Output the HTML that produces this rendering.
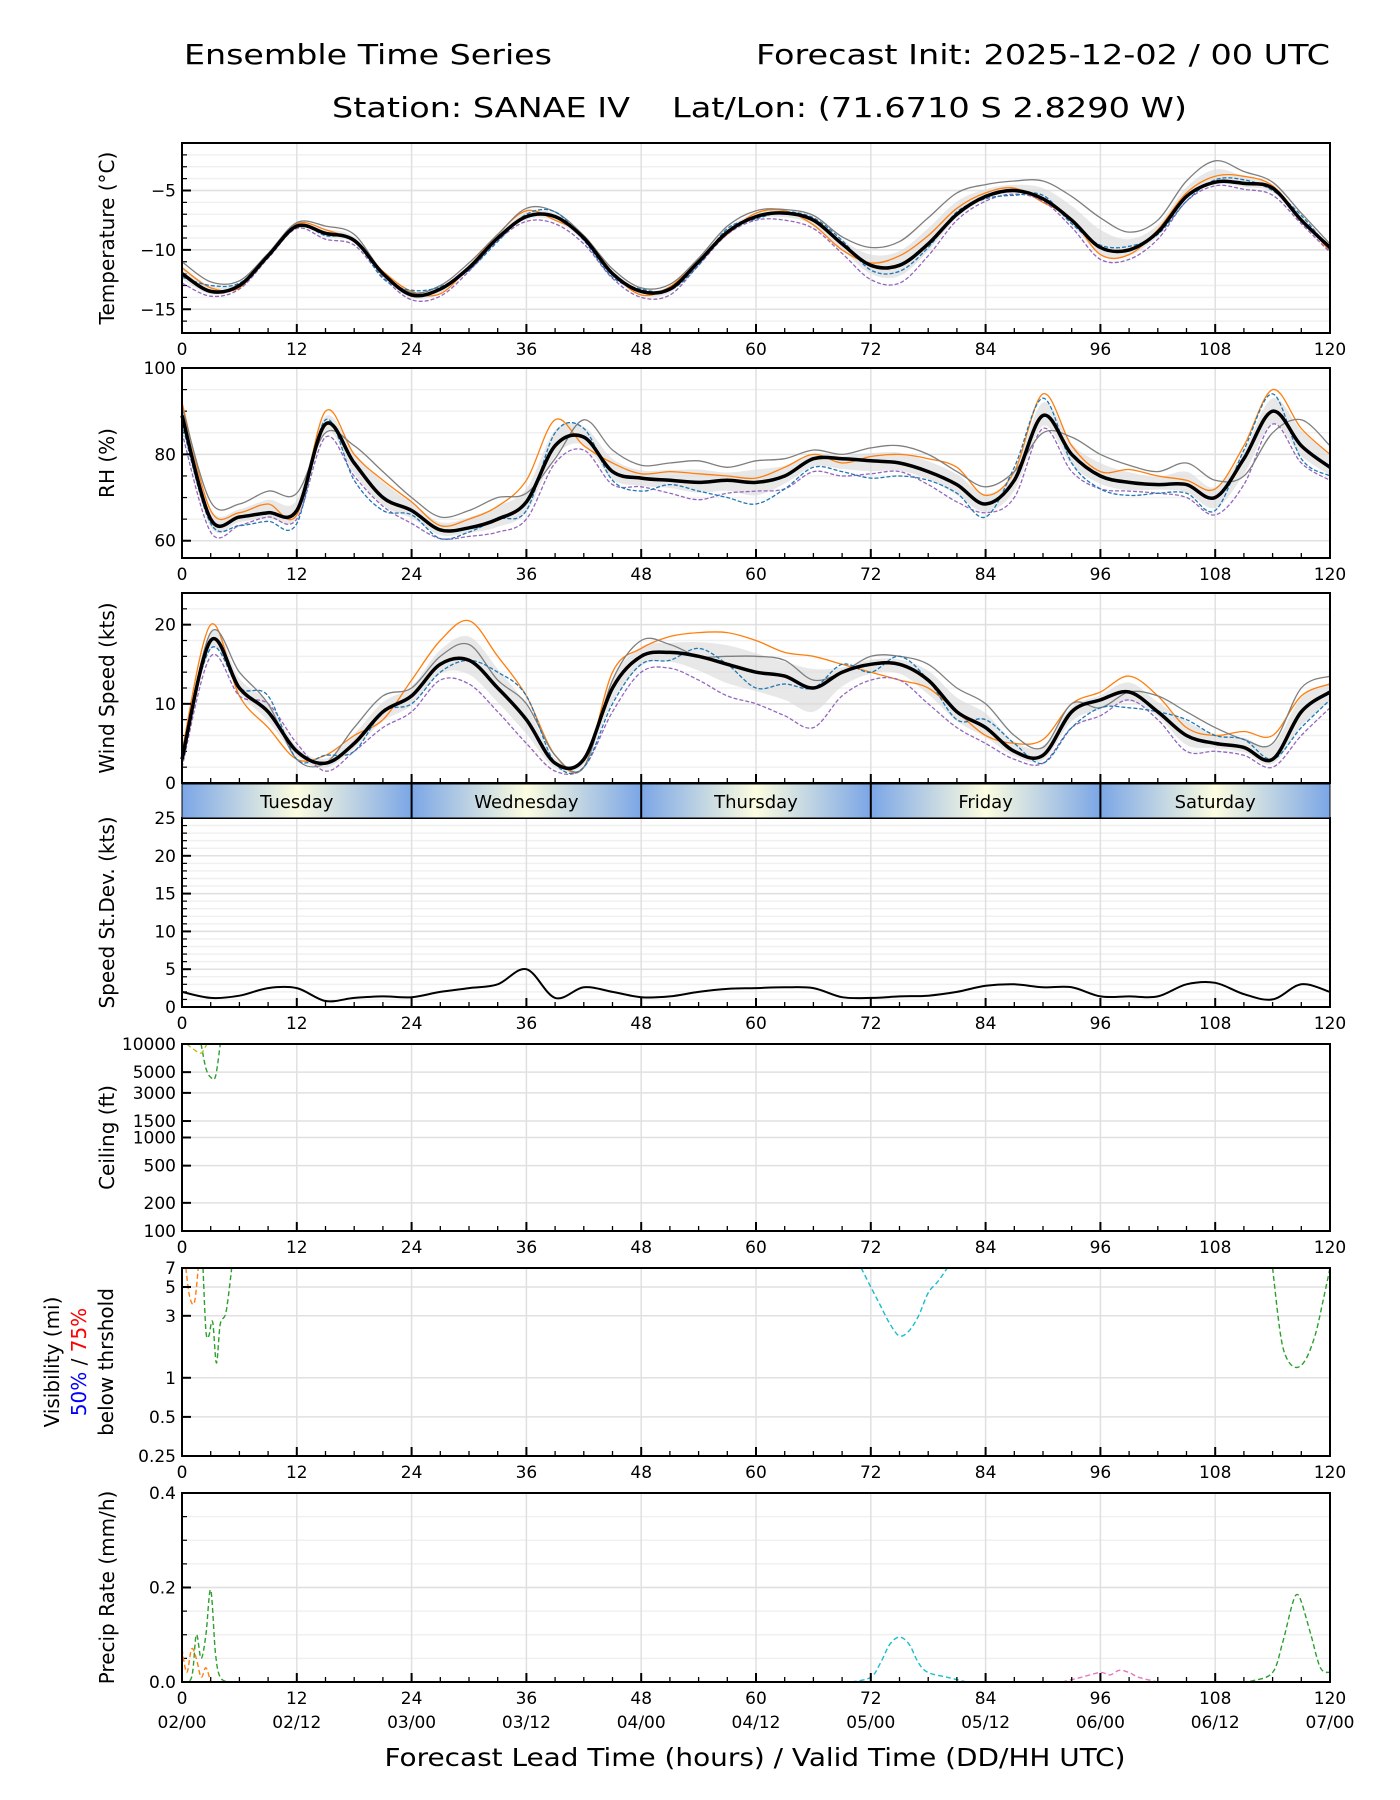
<!DOCTYPE html>
<html><head><meta charset="utf-8"><style>
html,body{margin:0;padding:0;background:#fff;}
svg{display:block;font-family:"DejaVu Sans","Liberation Sans",sans-serif;}
</style></head><body>
<svg id="chart" width="1400" height="1800" viewBox="0 0 1400 1800" xmlns="http://www.w3.org/2000/svg">
<defs>
<linearGradient id="dayg" x1="0" x2="1" y1="0" y2="0">
<stop offset="0" stop-color="#7ba6e6"/><stop offset="0.5" stop-color="#fdfde0"/><stop offset="1" stop-color="#7ba6e6"/>
</linearGradient>
</defs>
<text x="184" y="64" font-size="28" textLength="368" lengthAdjust="spacingAndGlyphs">Ensemble Time Series</text>
<text x="1330" y="64" font-size="28" text-anchor="end" textLength="574" lengthAdjust="spacingAndGlyphs">Forecast Init: 2025-12-02 / 00 UTC</text>
<text x="332" y="117" font-size="28" textLength="298" lengthAdjust="spacingAndGlyphs">Station: SANAE IV</text>
<text x="672" y="117" font-size="28" textLength="515" lengthAdjust="spacingAndGlyphs">Lat/Lon: (71.6710 S 2.8290 W)</text>
<text x="755" y="1766" font-size="25" text-anchor="middle" textLength="741" lengthAdjust="spacingAndGlyphs">Forecast Lead Time (hours) / Valid Time (DD/HH UTC)</text>
<g id="root"></g>
</svg>
<script>
const hours = [0,3,6,9,12,15,18,21,24,27,30,33,36,39,42,45,48,51,54,57,60,63,66,69,72,75,78,81,84,87,90,93,96,99,102,105,108,111,114,117,120];
const tempMean = [-12,-13.5,-13,-10.5,-8,-8.6,-9.2,-12,-13.8,-13.3,-11.5,-9,-7.2,-7.2,-9,-12,-13.5,-13.3,-11,-8.5,-7.2,-6.9,-7.5,-9.5,-11.3,-11.3,-9.5,-7,-5.5,-5,-5.7,-7.5,-9.8,-10,-8.5,-5.5,-4.3,-4.4,-4.8,-7.5,-9.8];
const rhMean = [89,65,65.5,66.5,67,87,78,70,67,62.5,63,65,69,82,84,76,74.5,74,73.5,74,73.5,75,79,79,78.5,78,76,73,68.5,74,89,80,75,73.5,73,73,70,79,90,82,77];
const windMean = [3,18,12,9,4,2.5,5,9,11,15,15.5,12,8,2.5,3,12,16,16.5,16,15,14,13.5,12,14,15,15,13,9,7,4,3.5,9,10.5,11.5,9,6,5,4.5,3,9,11.5];
const sdevMean = [2,1.2,1.5,2.5,2.5,0.8,1.2,1.4,1.3,2,2.5,3,5,1.2,2.6,2,1.3,1.4,2,2.4,2.5,2.6,2.5,1.3,1.2,1.4,1.5,2,2.8,3,2.6,2.6,1.4,1.4,1.4,3,3.2,1.7,1,3,2];
const tempOff1 = [0.5,0.3,-0.2,0.1,0.2,0.3,-0.1,0.2,0.3,-0.4,0.1,0.3,0.5,-0.3,0.2,0.1,-0.3,0.2,0.1,-0.2,0.3,0.2,-0.4,-0.5,0.2,0.8,0.7,0.5,0.3,0.2,-0.3,0.1,-0.6,-0.4,0.2,0.3,0.5,0.6,0.2,0.1,-0.3];
const tempOff2 = [-0.8,-0.4,-0.3,-0.2,-0.2,-0.5,-0.4,-0.3,-0.4,-0.6,-0.3,-0.2,-0.4,-0.6,-0.5,-0.4,-0.5,-0.5,-0.3,-0.2,-0.3,-0.6,-0.7,-0.8,-1.2,-1.5,-1.0,-0.5,-0.4,-0.3,-0.2,-0.6,-1.0,-0.8,-0.6,-0.4,-0.3,-0.5,-0.6,-0.3,-0.4];
const tempOff3 = [1.0,0.8,0.4,0.2,0.3,0.6,0.5,0.1,0.2,0.3,0.4,0.3,0.7,0.4,0.2,0.4,0.3,0.4,0.3,0.5,0.5,0.3,0.4,0.6,1.5,2.0,2.2,1.8,1.0,0.8,1.5,2.0,2.5,1.5,1.0,1.3,1.8,1.0,0.5,0.6,0.3];
const tempOff4 = [-0.3,0.5,0.2,-0.1,0.1,-0.2,0.1,-0.4,0.4,0.2,-0.2,-0.3,0.2,0.4,-0.2,-0.3,0.2,-0.1,-0.3,0.3,-0.2,0.1,0.2,0.3,-0.4,-0.5,-0.3,0.2,-0.2,-0.4,0.3,-0.3,0.2,0.3,-0.2,-0.4,0.2,0.3,-0.2,0.4,-0.2];
const rhOff1 = [3,2,1,2,-1,3,2,4,2,1,2,3,5,6,-2,2,1,2,2,1,1,2,1,-1,1,2,3,4,2,2,5,2,1,3,2,1,2,3,5,4,3];
const rhOff2 = [-4,-3,-2,-1,-2,-3,-3,-2,-3,-2,-2,-3,-4,-4,-3,-3,-2,-3,-4,-3,-2,-3,-3,-4,-3,-2,-3,-4,-2,-4,-3,-4,-3,-2,-2,-3,-4,-6,-3,-4,-3];
const rhOff3 = [2,4,3,5,4,-2,4,6,3,3,4,5,2,-3,4,5,3,4,5,3,5,4,2,1,3,4,4,3,4,2,-4,4,5,4,3,5,4,-4,-5,6,5];
const rhOff4 = [-2,-1,-2,-2,-3,1,-4,-3,-1,-2,-1,0,-2,3,2,-2,-3,-1,-2,-4,-5,-3,-2,-3,-4,-3,-2,-2,-3,3,4,-2,-3,-3,-2,-2,-3,2,4,-3,-2];
const windOff1 = [1,2,-1,-2,-1,1,1,-1,2,3,5,4,3,1,-1,2,1,2,3,4,4,3,4,1,-1,-2,-1,0,-1,1,2,1,1,2,2,1,1,2,3,2,1];
const windOff2 = [-1,-2,-1,1,1,-1,-1,-2,-2,-2,-3,-3,-3,-1,-1,-3,-2,-2,-3,-4,-4,-5,-5,-3,-2,-2,-3,-2,-2,-1,-1,-2,-2,-1,-1,-2,-1,-1,-1,-3,-2];
const windOff3 = [0,1,2,1,-1,0,2,2,1,1,2,1,2,1,-1,1,2,1,0,1,2,2,1,0,1,1,2,3,3,2,1,1,-1,0,2,3,2,1,2,3,2];
const windOff4 = [1,-1,0,2,-1,1,-1,0,-1,-1,0,2,3,0,-1,-2,-1,-1,1,0,-2,-1,0,1,-1,1,0,-1,1,1,-1,-2,-1,-2,0,2,1,1,0,-2,-1];
const ceilHoursA = [2,2.5,3,3.5,4];
const ceilValsA = [10000,5500,4400,4500,10000];
const ceilHoursB = [0.5,1.2,2,2.6];
const ceilValsB = [10000,8800,8000,10000];
const visHoursA = [2.2,2.5,2.8,3.2,3.6,4,4.6,5.2];
const visValsA = [7,2.3,2.1,2.7,1.3,2.6,3.2,7];
const visHoursB = [0.4,0.8,1.3,1.7];
const visValsB = [7,4.2,3.8,7];
const visHoursC = [71,72,73,74,75,76,77,78,79,80];
const visValsC = [7,5,3.6,2.6,2.1,2.3,3,4.5,5.5,7];
const visHoursD = [114,114.8,115.5,116.5,117.5,118.5,119.3,120];
const visValsD = [7,2.2,1.4,1.2,1.4,2.2,4,7];
const prHoursA = [0,1,1.5,2,2.5,3,3.5,4,5,6];
const prValsA = [0,0.01,0.1,0.05,0.1,0.195,0.06,0.01,0,0];
const prHoursB = [0,0.5,1,1.5,2,2.5,3];
const prValsB = [0.07,0.02,0.07,0.05,0.01,0.03,0];
const prHoursC = [70,72,73,74,75,76,77,78,80,82];
const prValsC = [0,0.01,0.04,0.08,0.095,0.08,0.04,0.02,0.01,0];
const prHoursD = [110,112,114,115,116,116.5,117,118,119,120];
const prValsD = [0,0.003,0.02,0.08,0.16,0.185,0.17,0.1,0.03,0.02];
const prHoursE = [92,94,96,97,98,99,100,102];
const prValsE = [0,0.01,0.02,0.015,0.025,0.02,0.01,0];
const dayNames = ["Tuesday","Wednesday","Thursday","Friday","Saturday"];
const xTicks = [0,12,24,36,48,60,72,84,96,108,120];
const dateLabels = ["02/00","02/12","03/00","03/12","04/00","04/12","05/00","05/12","06/00","06/12","07/00"];

const NS="http://www.w3.org/2000/svg";
const root=document.getElementById('root');
const X0=182,X1=1330;
function xs(h){return X0+h*(X1-X0)/120;}
function mk(tag,attrs,parent){const e=document.createElementNS(NS,tag);for(const k in attrs)e.setAttribute(k,attrs[k]);(parent||root).appendChild(e);return e;}
function scale(p){return v=>{ if(p.log){return p.bot-(Math.log10(v)-Math.log10(p.min))/(Math.log10(p.max)-Math.log10(p.min))*(p.bot-p.top);} return p.bot-(v-p.min)/(p.max-p.min)*(p.bot-p.top);};}
function smooth(pts){let d='M'+pts[0][0].toFixed(1)+','+pts[0][1].toFixed(1);for(let i=0;i<pts.length-1;i++){const p0=pts[i-1]||pts[i],p1=pts[i],p2=pts[i+1],p3=pts[i+2]||p2;const c1=[p1[0]+(p2[0]-p0[0])/6,p1[1]+(p2[1]-p0[1])/6],c2=[p2[0]-(p3[0]-p1[0])/6,p2[1]-(p3[1]-p1[1])/6];d+='C'+c1[0].toFixed(1)+','+c1[1].toFixed(1)+' '+c2[0].toFixed(1)+','+c2[1].toFixed(1)+' '+p2[0].toFixed(1)+','+p2[1].toFixed(1);}return d;}
const colors=['#1f77b4','#ff7f0e','#2ca02c','#d62728','#9467bd','#8c564b','#e377c2','#7f7f7f','#bcbd22','#17becf'];

function panel(p){
  const g=mk('g',{});
  
  
  const y=scale(p);
  (p.minor||[]).forEach(v=>{const l=mk('line',{x1:X0,x2:X1,y1:y(v),y2:y(v),stroke:'#f0f0f0','stroke-width':1.5},g);
    const t=mk('line',{x1:X0,x2:X0+5,y1:y(v),y2:y(v),stroke:'#000','stroke-width':1.2},g);});
  p.ticks.forEach(v=>{const l=mk('line',{x1:X0,x2:X1,y1:y(v),y2:y(v),stroke:'#e0e0e0','stroke-width':1.5},g);});
  xTicks.forEach(h=>{const l=mk('line',{x1:xs(h),x2:xs(h),y1:p.top,y2:p.bot,stroke:'#e0e0e0','stroke-width':1.5},g);});
  p.draw(g,y);
  for(let h=3;h<120;h+=3){const big=h%12===0;const t=mk('line',{x1:xs(h),x2:xs(h),y1:p.bot,y2:p.bot-(big?9:5),stroke:'#000','stroke-width':big?2:1.3},g);}
  p.ticks.forEach((v,i)=>{const t=mk('line',{x1:X0,x2:X0+9,y1:y(v),y2:y(v),stroke:'#000','stroke-width':2},g);
    const tx=mk('text',{x:X0-6,y:y(v)+6,'font-size':17,'text-anchor':'end'},g);tx.textContent=p.labels?p.labels[i]:String(v).replace('-','\u2212');});
  const fr=mk('rect',{x:X0,y:p.top,width:X1-X0,height:p.bot-p.top,fill:'none',stroke:'#000','stroke-width':2},g);
  
  if(p.xlabels!==false) xTicks.forEach(h=>{const t=mk('text',{x:xs(h),y:p.bot+22,'font-size':17,'text-anchor':'middle'},g);t.textContent=h;});
  const cy=(p.top+p.bot)/2;
  const yl=mk('text',{x:0,y:0,'font-size':20,'text-anchor':'middle',transform:'translate(114,'+cy+') rotate(-90)'},g);
  yl.textContent=p.ylabel;
}
function ensemble(g,y,mean,offs){
  const lo=[],hi=[];
  hours.forEach((h,i)=>{let a=mean[i],b=mean[i];offs.forEach(o=>{a=Math.min(a,mean[i]+o[i]*0.6);b=Math.max(b,mean[i]+o[i]*0.6);});lo.push([xs(h),y(a)]);hi.push([xs(h),y(b)]);});
  const band=mk('path',{d:smooth(hi)+'L'+smooth(lo.slice().reverse()).slice(1)+'Z',fill:'#d8d8d8','fill-opacity':0.6,stroke:'none'},g);
  
  offs.forEach((o,k)=>{const pts=hours.map((h,i)=>[xs(h),y(mean[i]+o[i])]);
    const l=mk('path',{d:smooth(pts),fill:'none',stroke:colors[(k*3+1)%10],'stroke-width':1.3,'stroke-dasharray':k%2?'4,2':'none'},g);
    });
  const m=mk('path',{d:smooth(hours.map((h,i)=>[xs(h),y(mean[i])])),fill:'none',stroke:'#000','stroke-width':3.5},g);
  
}
function dashed(g,y,hs,vs,color,name){const l=mk('path',{d:smooth(hs.map((h,i)=>[xs(h),y(vs[i])])),fill:'none',stroke:color,'stroke-width':1.4,'stroke-dasharray':'5,3'},g);}
function range(a,b,s){const r=[];for(let v=a;v<=b+1e-9;v+=s)r.push(+v.toFixed(4));return r;}

panel({name:'temperature',top:143,bot:333,min:-17,max:-1,ticks:[-15,-10,-5],minor:range(-16,-2,1),ylabel:'Temperature (°C)',draw:(g,y)=>ensemble(g,y,tempMean,[tempOff1,tempOff2,tempOff3,tempOff4])});
panel({name:'rh',top:368,bot:558,min:56,max:100,ticks:[60,80,100],minor:range(60,95,5),ylabel:'RH (%)',draw:(g,y)=>ensemble(g,y,rhMean,[rhOff1,rhOff2,rhOff3,rhOff4])});
panel({name:'wind-speed',top:593,bot:783,min:0,max:24,ticks:[0,10,20],minor:range(2,22,2),ylabel:'Wind Speed (kts)',xlabels:false,draw:(g,y)=>ensemble(g,y,windMean,[windOff1,windOff2,windOff3,windOff4].map(o=>o.map((v,i)=>Math.max(v,-windMean[i]))))});
panel({name:'speed-stdev',top:818,bot:1007,min:0,max:25,ticks:[0,5,10,15,20,25],minor:range(1,24,1),ylabel:'Speed St.Dev. (kts)',draw:(g,y)=>{const l=mk('path',{d:smooth(hours.map((h,i)=>[xs(h),y(sdevMean[i])])),fill:'none',stroke:'#000','stroke-width':2},g);}});
panel({name:'ceiling',top:1044,bot:1231,min:100,max:10000,log:true,ticks:[100,200,500,1000,1500,3000,5000,10000],ylabel:'Ceiling (ft)',draw:(g,y)=>{dashed(g,y,ceilHoursA,ceilValsA,'#2ca02c','ceiling-member');dashed(g,y,ceilHoursB,ceilValsB,'#bcbd22','ceiling-member');}});
panel({name:'visibility',top:1268,bot:1456,min:0.25,max:7,log:true,ticks:[0.25,0.5,1,3,5,7],ylabel:'',draw:(g,y)=>{dashed(g,y,visHoursA,visValsA,'#2ca02c','visibility-member');dashed(g,y,visHoursB,visValsB,'#ff7f0e','visibility-member');dashed(g,y,visHoursC,visValsC,'#17becf','visibility-member');dashed(g,y,visHoursD,visValsD,'#2ca02c','visibility-member');}});
panel({name:'precip',top:1493,bot:1682,min:0,max:0.4,ticks:[0,0.2,0.4],labels:['0.0','0.2','0.4'],minor:range(0.05,0.35,0.05),ylabel:'Precip Rate (mm/h)',draw:(g,y)=>{dashed(g,y,prHoursA,prValsA,'#2ca02c','precip-member');dashed(g,y,prHoursB,prValsB,'#ff7f0e','precip-member');dashed(g,y,prHoursC,prValsC,'#17becf','precip-member');dashed(g,y,prHoursD,prValsD,'#2ca02c','precip-member');dashed(g,y,prHoursE,prValsE,'#e377c2','precip-member');}});

const vc=(1268+1456)/2;
const v1=mk('text',{x:0,y:0,'font-size':20,'text-anchor':'middle',transform:'translate(59,'+vc+') rotate(-90)'});v1.textContent='Visibility (mi)';

const v2=mk('text',{x:0,y:0,'font-size':20,'text-anchor':'middle',transform:'translate(86,'+vc+') rotate(-90)'});
const s1=mk('tspan',{fill:'#0000ff'},v2);s1.textContent='50%';const s2=mk('tspan',{},v2);s2.textContent=' / ';const s3=mk('tspan',{fill:'#ff0000'},v2);s3.textContent='75%';

const v3=mk('text',{x:0,y:0,'font-size':20,'text-anchor':'middle',transform:'translate(113,'+vc+') rotate(-90)'});v3.textContent='below thrshold';


dayNames.forEach((d,i)=>{const r=mk('rect',{x:xs(i*24),y:784,width:xs(24)-xs(0),height:34,fill:'url(#dayg)'});
  
  const t=mk('text',{x:xs(i*24+12),y:808,'font-size':18,'text-anchor':'middle'});t.textContent=d;
  
  if(i>0){const l=mk('line',{x1:xs(i*24),x2:xs(i*24),y1:784,y2:818,stroke:'#000','stroke-width':2});}});
const bf=mk('rect',{x:X0,y:784,width:X1-X0,height:34,fill:'none',stroke:'#000','stroke-width':1});

xTicks.forEach((h,i)=>{const t=mk('text',{x:xs(h),y:1728,'font-size':17,'text-anchor':'middle'});t.textContent=dateLabels[i];
  });
</script>
</body></html>
